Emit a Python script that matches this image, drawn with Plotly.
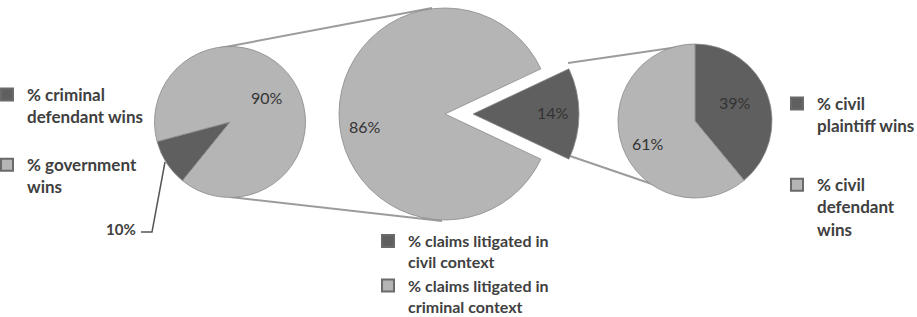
import plotly.graph_objects as go

W, H = 917, 317

# ---------------- data ----------------
crim_labels = ["% criminal<br>defendant wins", "% government<br>wins"]
crim_values = [10, 90]

context_labels = ["% claims litigated in<br>civil context", "% claims litigated in<br>criminal context"]
context_values = [14, 86]

civil_labels = ["% civil<br>plaintiff wins", "% civil<br>defendant<br>wins"]
civil_values = [39, 61]

# ---------------- style ----------------
DARK = "#5f5f5f"
LIGHT = "#b5b5b5"
CLEAR = "rgba(0,0,0,0)"
EDGE = "#8a8a8a"
TXT = "#333333"
LEG = "#404040"


def fx(x):
    return x / W


def fy(y):
    return 1 - y / H


def dom(cx, cy, r):
    return dict(x=[(cx - r) / W, (cx + r) / W], y=[1 - (cy + r) / H, 1 - (cy - r) / H])


fig = go.Figure()

# left pie: criminal outcomes
fig.add_trace(go.Pie(
    values=crim_values, labels=crim_labels, domain=dom(230, 122, 75.5),
    sort=False, direction="clockwise", rotation=219,
    marker=dict(colors=[DARK, LIGHT], line=dict(color=EDGE, width=0.8)),
    textinfo="none", showlegend=False, hoverinfo="label+percent"))

# middle pie: light slice (criminal context)
fig.add_trace(go.Pie(
    values=context_values, labels=context_labels, domain=dom(445, 114, 106),
    sort=False, direction="clockwise", rotation=90 - context_values[0] * 1.8,
    marker=dict(colors=[CLEAR, LIGHT], line=dict(color=EDGE, width=[0, 0.8])),
    textinfo="none", showlegend=False, hoverinfo="label+percent"))

# middle pie: exploded dark slice (civil context)
fig.add_trace(go.Pie(
    values=context_values, labels=context_labels, domain=dom(473, 114, 106),
    sort=False, direction="clockwise", rotation=90 - context_values[0] * 1.8,
    marker=dict(colors=[DARK, CLEAR], line=dict(color=EDGE, width=[0.8, 0])),
    textinfo="none", showlegend=False, hoverinfo="label+percent"))

# right pie: civil outcomes
fig.add_trace(go.Pie(
    values=civil_values, labels=civil_labels, domain=dom(695, 121, 77),
    sort=False, direction="clockwise", rotation=0,
    marker=dict(colors=[DARK, LIGHT], line=dict(color=EDGE, width=0.8)),
    textinfo="none", showlegend=False, hoverinfo="label+percent"))

# legend entries
for labels, legend_id in [(crim_labels, "legend"), (context_labels, "legend2"), (civil_labels, "legend3")]:
    for lab, col in zip(labels, [DARK, LIGHT]):
        fig.add_trace(go.Scatter(
            x=[None], y=[None], mode="markers", name=lab, legend=legend_id,
            legendgroup=legend_id + lab, showlegend=True,
            marker=dict(symbol="square", size=8, color=col, line=dict(color="#6a6a6a", width=0.6))))

# data labels
label_font = dict(family="Lato", size=16, color=TXT)
annotations = [
    dict(x=fx(267), y=fy(97), text=f"{crim_values[1]}%"),
    dict(x=fx(365), y=fy(127), text=f"{context_values[1]}%"),
    dict(x=fx(553), y=fy(112), text=f"{context_values[0]}%"),
    dict(x=fx(735), y=fy(102), text=f"{civil_values[0]}%"),
    dict(x=fx(648), y=fy(143), text=f"{civil_values[1]}%"),
]
for a in annotations:
    a.update(xref="paper", yref="paper", showarrow=False, font=label_font,
             xanchor="center", yanchor="middle")
annotations.append(dict(x=fx(138), y=fy(229), text=f"{crim_values[0]}%", xref="paper", yref="paper",
                        showarrow=False, xanchor="right", yanchor="middle",
                        font=dict(family="Lato", size=15, color=LEG, weight="bold")))

LINE = dict(color="#9c9c9c", width=2)
shapes = [
    dict(type="line", x0=fx(220), y0=fy(48), x1=fx(432), y1=fy(8), line=LINE),
    dict(type="line", x0=fx(230), y0=fy(197), x1=fx(442), y1=fy(221), line=LINE),
    dict(type="line", x0=fx(568), y0=fy(63), x1=fx(692), y1=fy(45), line=LINE),
    dict(type="line", x0=fx(570), y0=fy(156), x1=fx(690), y1=fy(197), line=LINE),
    dict(type="path",
         path=f"M {fx(165)} {fy(162)} L {fx(152)} {fy(232)} L {fx(141)} {fy(232)}",
         line=dict(color="#555555", width=1.5)),
]
for s in shapes:
    s.update(xref="paper", yref="paper", layer="below")

leg_common = dict(xanchor="left", yanchor="top", valign="top", traceorder="grouped",
                  bgcolor="rgba(0,0,0,0)", itemclick=False, itemdoubleclick=False,
                  itemsizing="constant")

fig.update_layout(
    width=W, height=H,
    margin=dict(l=0, r=0, t=0, b=0, autoexpand=False),
    paper_bgcolor="white", plot_bgcolor="white",
    xaxis=dict(visible=False), yaxis=dict(visible=False),
    annotations=annotations, shapes=shapes,
    legend=dict(x=fx(-13), y=fy(77), tracegroupgap=23,
                font=dict(family="Lato", size=17, color=LEG, weight="bold"), **leg_common),
    legend2=dict(x=fx(368), y=fy(224), tracegroupgap=0,
                 font=dict(family="Lato", size=16, color=LEG, weight="bold"), **leg_common),
    legend3=dict(x=fx(777), y=fy(86), tracegroupgap=34,
                 font=dict(family="Lato", size=17, color=LEG, weight="bold"), **leg_common),
)

fig.write_html("out.html", config={"displayModeBar": False},
               post_script="document.body.style.margin='0px';document.body.style.overflow='hidden';")
